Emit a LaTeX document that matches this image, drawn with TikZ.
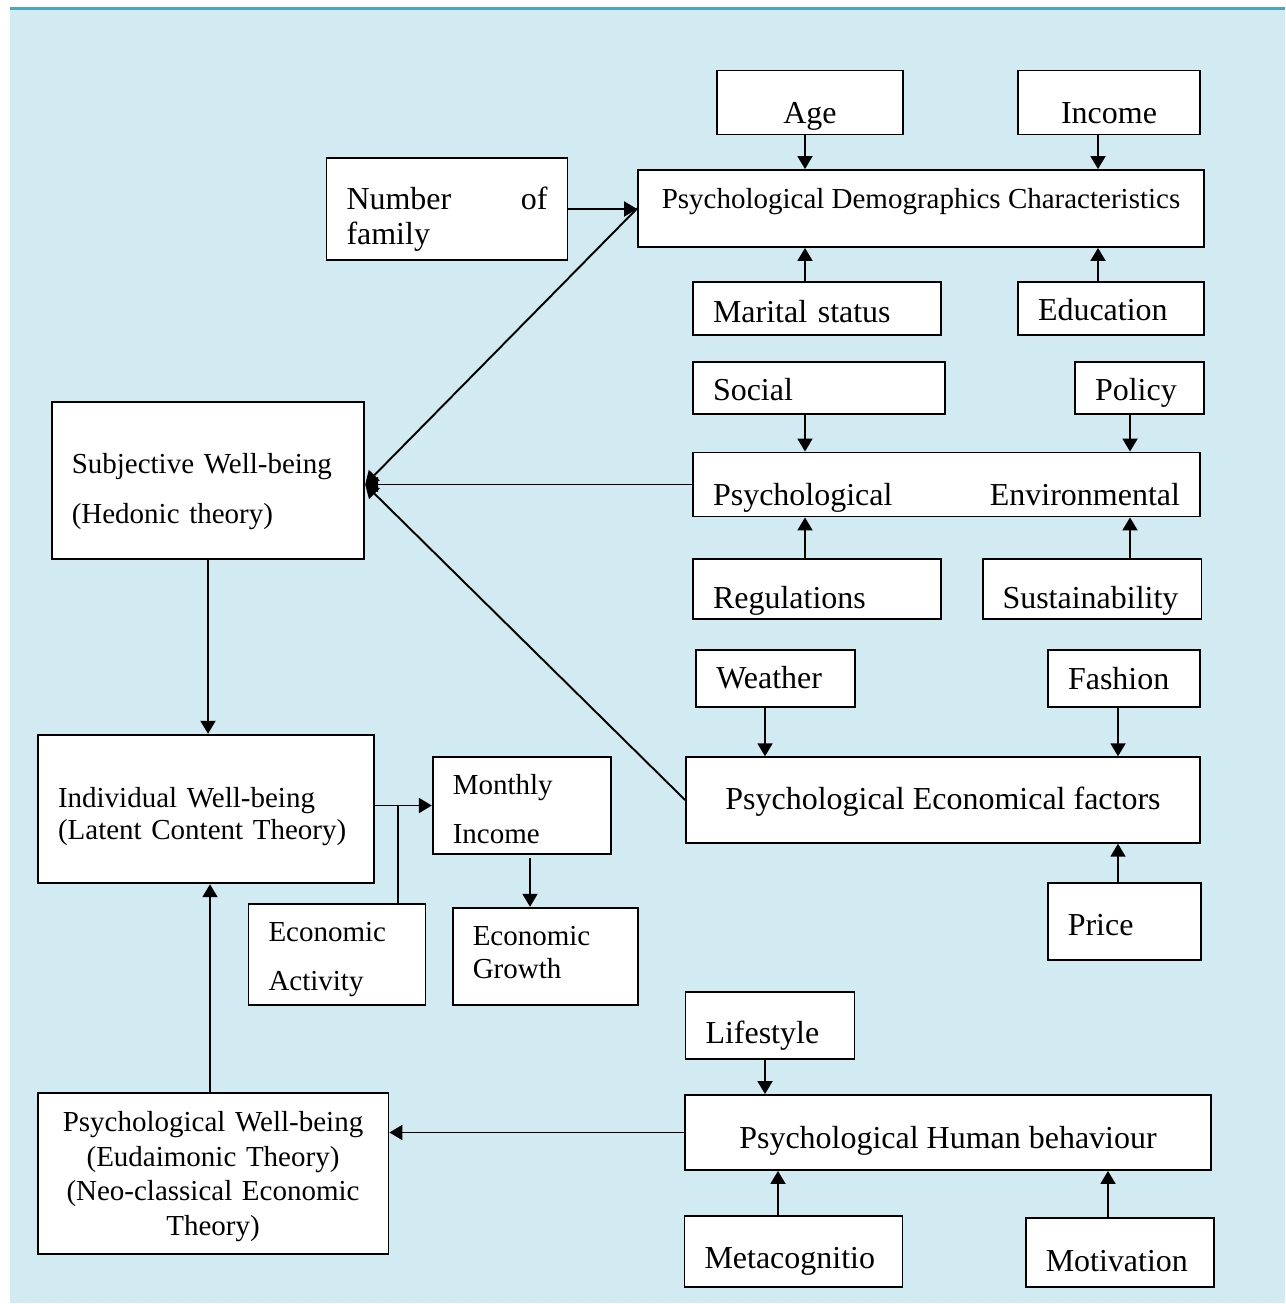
\documentclass[tikz,border=0pt]{standalone}
\usepackage{fontspec}
\setmainfont{Liberation Serif}
\usetikzlibrary{arrows.meta}
\usetikzlibrary{calc}
\definecolor{bgblue}{RGB}{210, 234, 241}
\definecolor{topline}{RGB}{75, 166, 192}

\tikzset{
  box/.style={draw, fill=white, line width=1.1pt, inner xsep=0.4cm, inner ysep=0pt, text depth=0pt},
  lbox/.style={box, align=left, text width=#1},
  cbox/.style={box, align=center, minimum width=#1},
  big/.style={font=\fontsize{18.2}{19.9}\selectfont},
  small/.style={font=\fontsize{16.5}{18.6}\selectfont},
  arr/.style={line width=1.1pt, -{Triangle[length=0.26cm, width=0.3cm]}},
  link/.style={line width=1.1pt}
}

\begin{document}
\begin{tikzpicture}[x=0.02cm, y=-0.02cm]
        \useasboundingbox (0,0) rectangle (1285,1304);
        \fill[bgblue] (10,10) rectangle (1285,1303);
        \fill[topline] (10,7) rectangle (1285,10);

        % demographics
        \node[cbox=3.72cm, big, minimum height=1.28cm, text height=0.84cm] (age) at (810,102.5) {Age};
        \node[cbox=3.64cm, big, minimum height=1.28cm, text height=0.83cm] (income) at (1109,102.5) {Income};
        \node[cbox=11.32cm, small, minimum height=1.54cm, text height=0pt] (pdc) at (921,208.5) {Psychological Demographics Characteristics};
        \node[lbox=4.02cm, big, minimum height=2.04cm, text height=0.04cm] (nof) at (447,209) {Number\hfill of\\family};
        \node[lbox=4.16cm, big, minimum height=1.06cm, text height=0.55cm] (marital) at (817,308.5) {Marital status};
        \node[lbox=2.92cm, big, minimum height=1.06cm, text height=0.48cm] (edu) at (1111,308.5) {Education};

        % environment
        \node[lbox=4.24cm, big, minimum height=1.04cm, text height=0.48cm] (social) at (819,388) {Social};
        \node[lbox=1.78cm, big, minimum height=1.04cm, text height=0.48cm] (policy) at (1139.5,388) {Policy};
        \node[lbox=9.34cm, big, minimum height=1.28cm, text height=0.84cm] (penv) at (946.5,484.5) {Psychological\hfill Environmental};
        \node[lbox=4.16cm, big, minimum height=1.20cm, text height=0.78cm] (reg) at (817,589) {Regulations};
        \node[lbox=3.58cm, big, minimum height=1.20cm, text height=0.78cm] (sust) at (1092,589) {Sustainability};

        \node[lbox=5.45cm, font=\fontsize{16.5}{28.6}\selectfont, minimum height=3.15cm, text height=0pt, text depth=0.29cm] (swb) at (208,480.5) {Subjective Well-being\\(Hedonic theory)};

        % economy
        \node[lbox=2.37cm, big, minimum height=1.15cm, text height=0.39cm] (weather) at (775.5,678.5) {Weather};
        \node[lbox=2.24cm, big, minimum height=1.15cm, text height=0.43cm] (fashion) at (1124,678.5) {Fashion};
        \node[cbox=10.28cm, big, minimum height=1.71cm, text height=0.37cm] (pef) at (943,800) {Psychological Economical factors};
        \node[lbox=2.27cm, big, minimum height=1.55cm, text height=0.54cm] (price) at (1124.5,921.5) {Price};

        \node[lbox=5.92cm, small, minimum height=2.97cm, text height=0pt, text depth=0.07cm] (iwb) at (206,809) {Individual Well-being\\(Latent Content Theory)};
        \node[lbox=2.77cm, font=\fontsize{16.5}{28}\selectfont, minimum height=1.94cm, text height=0pt, text depth=0.46cm] (mi) at (522,805.5) {Monthly\\Income};
        \node[lbox=2.74cm, font=\fontsize{16.5}{27.9}\selectfont, minimum height=2.01cm, text height=0pt, text depth=0.51cm] (ea) at (337,954.5) {Economic\\Activity};
        \node[lbox=2.91cm, font=\fontsize{16.5}{19}\selectfont, minimum height=1.95cm, text height=0pt, text depth=0.46cm] (eg) at (545.5,956.5) {Economic\\Growth};

        % behaviour
        \node[lbox=2.58cm, big, minimum height=1.35cm, text height=0.70cm] (life) at (770,1025.5) {Lifestyle};
        \node[cbox=10.53cm, big, minimum height=1.50cm, text height=0.62cm] (phb) at (948,1132.5) {Psychological Human behaviour};
        \node[lbox=3.56cm, big, minimum height=1.41cm, text height=0.66cm] (meta) at (793.5,1251.5) {Metacognitio};
        \node[lbox=2.97cm, big, minimum height=1.37cm, text height=0.74cm] (motiv) at (1120,1252.5) {Motivation};
        \node[lbox=6.22cm, align=center, font=\fontsize{16.5}{19.6}\selectfont, minimum height=3.21cm, text height=0pt, text depth=1.67cm] (pwb) at (213,1173.5) {Psychological Well-being\\(Eudaimonic Theory)\\(Neo-classical Economic\\Theory)};

        % arrow columns
        \coordinate (colA) at (805,0);
        \coordinate (colB) at (1098,0);
        \coordinate (colC) at (1130,0);
        \coordinate (colD) at (765,0);
        \coordinate (colE) at (1118,0);
        \coordinate (colF) at (530,0);
        \coordinate (colG) at (398,0);
        \coordinate (colH) at (210,0);
        \coordinate (colI) at (778,0);
        \coordinate (colJ) at (1108,0);

        \draw[arr] (age.south -| colA) -- (pdc.north -| colA);
        \draw[arr] (income.south -| colB) -- (pdc.north -| colB);
        \draw[arr] (marital.north -| colA) -- (pdc.south -| colA);
        \draw[arr] (edu.north -| colB) -- (pdc.south -| colB);
        \draw[arr] (nof.east) -- (nof.east -| pdc.west);

        \draw[arr] (social.south -| colA) -- (penv.north -| colA);
        \draw[arr] (policy.south -| colC) -- (penv.north -| colC);
        \draw[arr] (reg.north -| colA) -- (penv.south -| colA);
        \draw[arr] (sust.north -| colC) -- (penv.south -| colC);

        \draw[arr] (weather.south -| colD) -- (pef.north -| colD);
        \draw[arr] (fashion.south -| colE) -- (pef.north -| colE);
        \draw[arr] (price.north -| colE) -- (pef.south -| colE);

        \coordinate (hub) at (swb.east |- penv.west);
        \draw[arr] (pdc.west) -- (hub);
        \draw[arr] (penv.west) -- (hub);
        \draw[arr] (pef.west) -- (hub);

        \draw[arr] (swb.south) -- (swb.south |- iwb.north);
        \draw[arr] (pwb.north -| colH) -- (iwb.south -| colH);

        \coordinate (split) at (colG |- mi.west);
        \draw[arr] (iwb.east |- mi.west) -- (mi.west);
        \draw[link] (ea.north -| split) -- (split);
        \draw[arr] ($(mi.south -| colF)+(0,3)$) -- (eg.north -| colF);

        \draw[arr] (life.south -| colD) -- (phb.north -| colD);
        \draw[arr] (meta.north -| colI) -- (phb.south -| colI);
        \draw[arr] (motiv.north -| colJ) -- (phb.south -| colJ);
        \draw[arr] (phb.west) -- (phb.west -| pwb.east);
    \end{tikzpicture}
\end{document}
